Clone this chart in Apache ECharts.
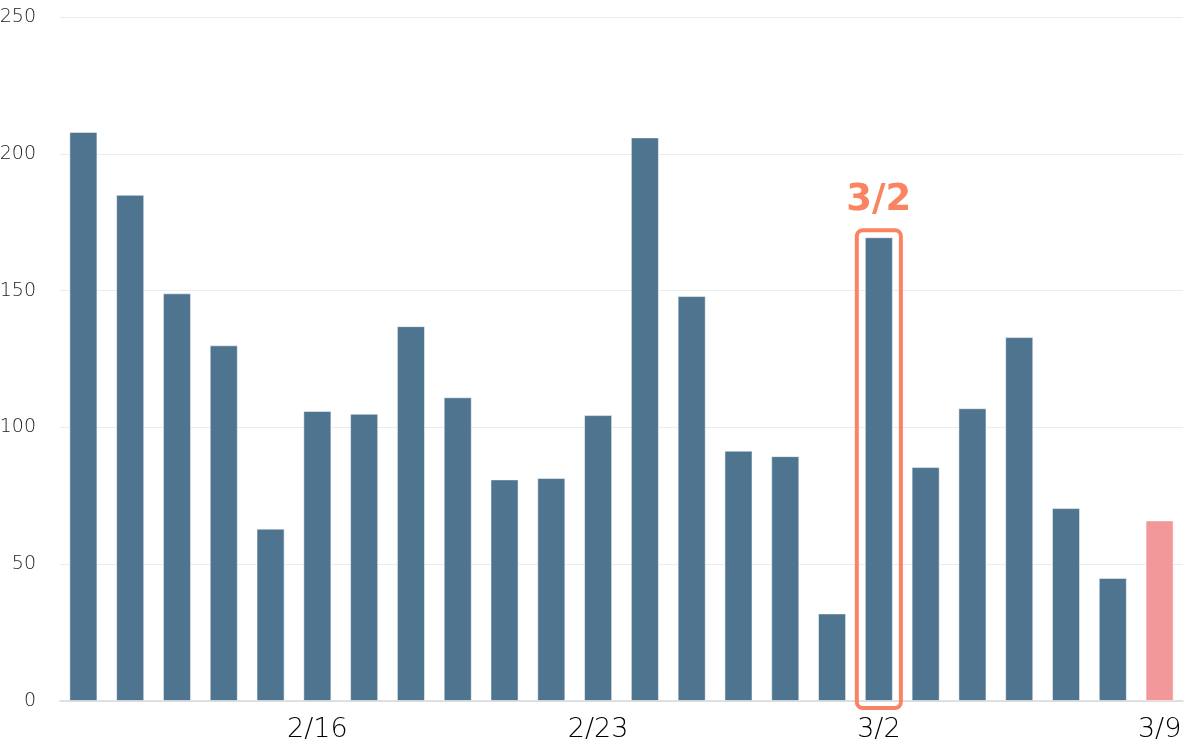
<!DOCTYPE html>
<html>
<head>
<meta charset="utf-8">
<script src="https://cdn.jsdelivr.net/npm/echarts@6/dist/echarts.min.js"></script>
<style>html,body{margin:0;padding:0;background:#fff}#c{width:1200px;height:744px}</style>
</head>
<body>
<div id="c"></div>
<script>
const categories = ['2/11','2/12','2/13','2/14','2/15','2/16','2/18','2/19','2/20','2/21','2/22','2/23','2/25','2/26','2/27','2/28','3/1','3/2','3/4','3/5','3/6','3/7','3/8','3/9'];
const values = [208,185,149,130,63,106,105,137,111,81,81.5,104.5,206,148,91.5,89.5,32,169.5,85.5,107,133,70.5,45,66];
const shownLabels = ['2/16','2/23','3/2','3/9'];
const highlightIndex = 17;
const highlightLabel = '3/2';
const latestIndex = 23;
const yTicks = { min: 0, max: 250, interval: 50 };

const barColor = '#4e7490';
const latestColor = '#f2979a';
const accent = '#fa8462';

const chart = echarts.init(document.getElementById('c'));
chart.setOption({
  animation: false,
  grid: { left: 60, right: 17, top: 17, bottom: 43, outerBoundsMode: 'none', containLabel: false },
  xAxis: {
    type: 'category',
    data: categories,
    axisTick: { show: false },
    axisLine: { lineStyle: { color: '#d9d9d9', width: 1.5 } },
    axisLabel: {
      interval: 0,
      formatter: v => shownLabels.includes(v) ? v : '',
      fontSize: 27,
      color: '#000',
      fontFamily: 'DejaVu Sans',
      fontWeight: 200,
      margin: 15
    }
  },
  yAxis: {
    type: 'value',
    min: yTicks.min, max: yTicks.max, interval: yTicks.interval,
    axisLabel: { fontSize: 19, color: '#1a1a1a', margin: 24, fontFamily: 'DejaVu Sans', fontWeight: 200 },
    splitLine: { lineStyle: { color: '#ebebeb', width: 1 } },
    axisLine: { show: false },
    axisTick: { show: false }
  },
  series: [
    {
      type: 'bar',
      barWidth: '60%',
      data: values.map((v, i) => ({
        value: v,
        itemStyle: { color: i === latestIndex ? latestColor : barColor }
      })),
      itemStyle: { borderColor: 'rgba(255,255,255,0.5)', borderWidth: 1 }
    },
    {
      type: 'custom',
      silent: true,
      z: 5,
      data: [[highlightIndex, values[highlightIndex]]],
      renderItem: function (params, api) {
        const top = api.coord([api.value(0), api.value(1)]);
        const bottom = api.coord([api.value(0), 0]);
        const bw = api.size([1, 0])[0] * 0.6;
        const w = bw + 16;
        const x = top[0] - w / 2;
        const y = top[1] - 7;
        const h = bottom[1] + 7 - y;
        return {
          type: 'group',
          children: [
            {
              type: 'rect',
              shape: { x: x, y: y, width: w, height: h, r: 6 },
              style: { fill: 'none', stroke: accent, lineWidth: 4 }
            },
            {
              type: 'text',
              style: {
                text: highlightLabel,
                x: top[0], y: y - 30,
                textAlign: 'center', textVerticalAlign: 'middle',
                fill: accent,
                font: 'bold 37px "DejaVu Sans"'
              }
            }
          ]
        };
      }
    }
  ]
});
</script>
</body>
</html>
